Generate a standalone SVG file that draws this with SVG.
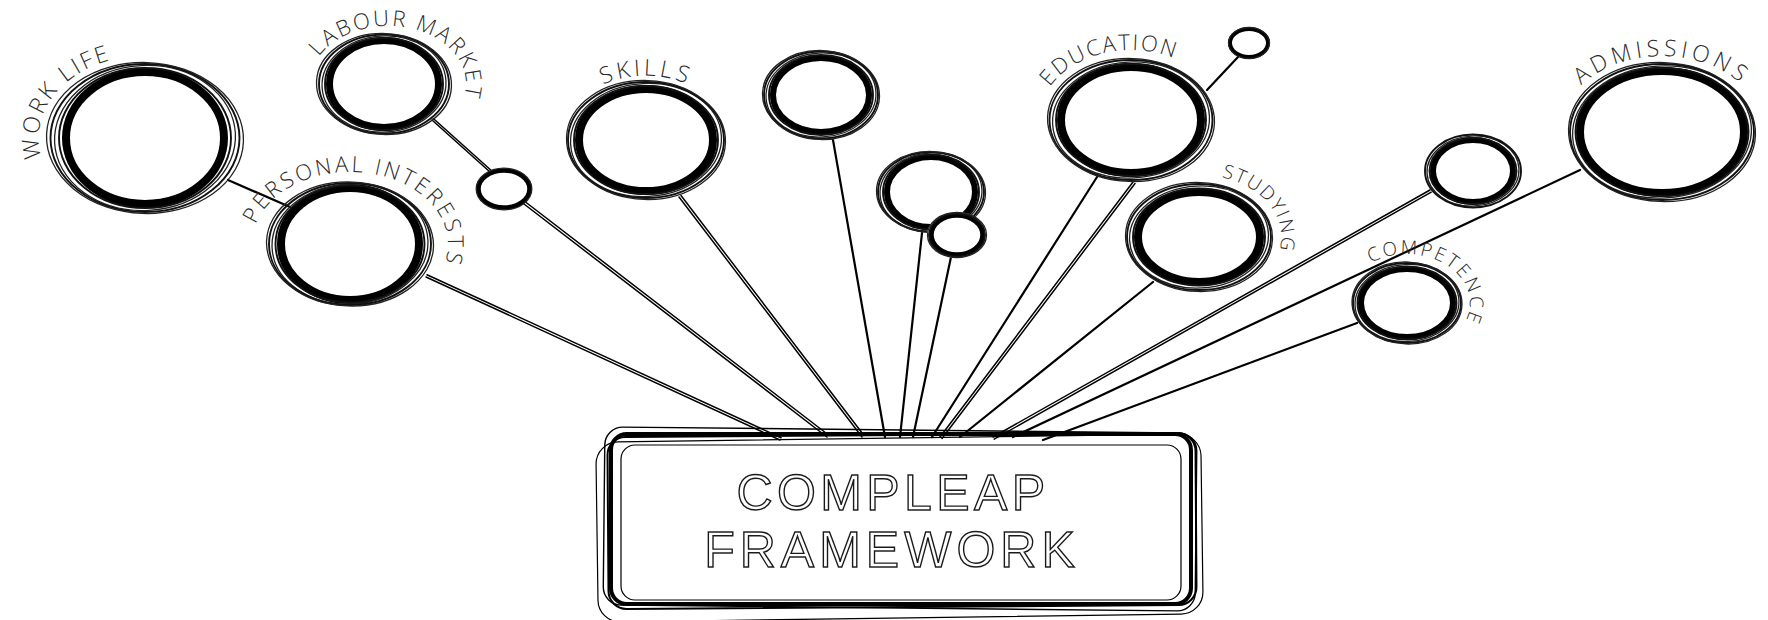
<svg xmlns="http://www.w3.org/2000/svg" width="1768" height="620" viewBox="0 0 1768 620">
<style>
  .bg{fill:#fff}
  .thk{fill:none;stroke:#000;stroke-width:8}
  .thk6{fill:none;stroke:#000;stroke-width:6}
  .thk4{fill:none;stroke:#000;stroke-width:4.5}
  .tn{fill:none;stroke:#111;stroke-width:1.9}
  .tn2{fill:none;stroke:#222;stroke-width:1.3}
  .ln{stroke:#000;stroke-width:2.2;fill:none;stroke-linecap:round}
  .ln2{stroke:#000;stroke-width:1.5;fill:none;stroke-linecap:round}
  .lbl{font-family:"Open Sans","Liberation Sans",sans-serif;font-weight:300;fill:#2a2a2a}
  .box{fill:none;stroke:#000}
  .title{font-family:"Liberation Sans","Open Sans",sans-serif;font-weight:400;font-size:50px;fill:#fff;stroke:#1a1a1a;stroke-width:1.4;text-anchor:middle}
</style>
<defs>
  <path id="pWork" d="M90.4,208.3 A106,82 0 0 1 183.0,61.4"/>
  <path id="pLabour" d="M317.9,58.6 A78,58 0 0 1 463.0,100.0"/>
  <path id="pPersonal" d="M258.5,218.2 A98,72 0 0 1 446.2,257.7"/>
  <path id="pSkills" d="M562.3,134.4 A84,64 0 0 1 729.7,134.4"/>
  <path id="pEdu" d="M1041.7,136.9 A92,70 0 0 1 1215.0,91.5"/>
  <path id="pStud" d="M1168.3,179.5 A82,62 0 0 1 1242.5,289.6"/>
  <path id="pAdm" d="M1560.4,125.4 A102,76 0 0 1 1763.6,125.4"/>
  <path id="pComp" d="M1362.1,268.7 A63,49 0 0 1 1458.9,330.8"/>
</defs>
<rect class="bg" x="0" y="0" width="1768" height="620"/>

<g id="connectors">
  <line class="ln" x1="228" y1="180" x2="290" y2="207"/>
  <line class="ln2" x1="432" y1="120" x2="490" y2="172"/>
  <line class="ln2" x1="433.3" y1="118.5" x2="491.3" y2="170.5"/>
  <line class="ln2" x1="524" y1="204" x2="827" y2="437"/>
  <line class="ln2" x1="525.5" y1="202" x2="828.5" y2="435"/>
  <line class="ln2" x1="426" y1="277" x2="780" y2="440"/>
  <line class="ln2" x1="427" y1="274.7" x2="781" y2="437.7"/>
  <line class="ln2" x1="679" y1="197" x2="862" y2="437"/>
  <line class="ln2" x1="681" y1="195.5" x2="864" y2="435.5"/>
  <line class="ln" x1="833" y1="140" x2="885" y2="437"/>
  <line class="ln" x1="922" y1="233" x2="900" y2="437"/>
  <line class="ln" x1="951" y1="257" x2="913" y2="437"/>
  <line class="ln" x1="1097" y1="177" x2="932" y2="437"/>
  <line class="ln2" x1="1133" y1="182" x2="940" y2="437"/>
  <line class="ln2" x1="1135" y1="183.5" x2="942" y2="438.5"/>
  <line class="ln" x1="1153" y1="282" x2="960" y2="437"/>
  <line class="ln2" x1="1430" y1="190" x2="993" y2="437"/>
  <line class="ln2" x1="1431.2" y1="192.2" x2="994.2" y2="439.2"/>
  <line class="ln" x1="1580" y1="170" x2="1013" y2="437"/>
  <line class="ln" x1="1357" y1="323" x2="1043" y2="440"/>
  <line class="ln" x1="1207" y1="90" x2="1238" y2="57"/>
</g>

<g id="node-work-life">
  <ellipse class="thk" cx="145" cy="138" rx="79" ry="66"/>
  <ellipse class="tn" cx="145" cy="138" rx="86" ry="70"/>
  <ellipse class="tn2" cx="145" cy="138" rx="90.5" ry="72.5" transform="rotate(-3 145 138)"/>
  <ellipse class="tn" cx="145" cy="138" rx="94.5" ry="74"/>
  <ellipse class="tn2" cx="145" cy="138" rx="98.5" ry="75.5" transform="rotate(2 145 138)"/>
  <text class="lbl" font-size="23" letter-spacing="2.5"><textPath href="#pWork" startOffset="50%" text-anchor="middle">WORK LIFE</textPath></text>
</g>

<g id="node-labour-market">
  <ellipse class="thk" cx="384" cy="84" rx="54.5" ry="43.5" style="stroke-width:7"/>
  <ellipse class="tn" cx="384" cy="84" rx="59" ry="46"/>
  <ellipse class="tn2" cx="384" cy="84" rx="62" ry="48" transform="rotate(-3 384 84)"/>
  <ellipse class="tn" cx="384" cy="84" rx="65" ry="49.5"/>
  <ellipse class="tn2" cx="384" cy="84" rx="67.5" ry="50.5" transform="rotate(2 384 84)"/>
  <text class="lbl" font-size="22" letter-spacing="2.2"><textPath href="#pLabour" startOffset="50%" text-anchor="middle">LABOUR MARKET</textPath></text>
</g>

<g id="node-small-1">
  <ellipse class="thk4" cx="504" cy="189" rx="25.5" ry="18.5"/>
  <ellipse class="tn2" cx="504" cy="189" rx="27.8" ry="20.8"/>
</g>

<g id="node-personal-interests">
  <ellipse class="thk" cx="350" cy="244" rx="69" ry="56"/>
  <ellipse class="tn" cx="350" cy="244" rx="74.5" ry="58.5"/>
  <ellipse class="tn2" cx="350" cy="244" rx="78" ry="60" transform="rotate(-3 350 244)"/>
  <ellipse class="tn" cx="350" cy="244" rx="81" ry="61"/>
  <ellipse class="tn2" cx="350" cy="244" rx="83.5" ry="62" transform="rotate(2 350 244)"/>
  <text class="lbl" font-size="22" letter-spacing="2.8"><textPath href="#pPersonal" startOffset="50%" text-anchor="middle">PERSONAL INTERESTS</textPath></text>
</g>

<g id="node-skills">
  <ellipse class="thk" cx="646" cy="140" rx="67" ry="51"/>
  <ellipse class="tn" cx="646" cy="140" rx="72" ry="54"/>
  <ellipse class="tn2" cx="646" cy="140" rx="75.5" ry="56.5" transform="rotate(-3 646 140)"/>
  <ellipse class="tn" cx="646" cy="140" rx="78" ry="58"/>
  <ellipse class="tn2" cx="646" cy="140" rx="79.5" ry="59.5" transform="rotate(2 646 140)"/>
  <text class="lbl" font-size="23" letter-spacing="3.5"><textPath href="#pSkills" startOffset="50%" text-anchor="middle">SKILLS</textPath></text>
</g>

<g id="node-5">
  <ellipse class="thk6" cx="821" cy="95" rx="48" ry="37"/>
  <ellipse class="tn" cx="821" cy="95" rx="52" ry="40"/>
  <ellipse class="tn2" cx="821" cy="95" rx="55" ry="42" transform="rotate(-3 821 95)"/>
  <ellipse class="tn" cx="821" cy="95" rx="57" ry="43.5"/>
  <ellipse class="tn2" cx="821" cy="95" rx="58.5" ry="44.5" transform="rotate(2 821 95)"/>
</g>

<g id="node-6">
  <ellipse class="thk6" cx="931" cy="192" rx="44" ry="35"/>
  <ellipse class="tn" cx="931" cy="192" rx="48" ry="37.5"/>
  <ellipse class="tn2" cx="931" cy="192" rx="51" ry="39" transform="rotate(-3 931 192)"/>
  <ellipse class="tn" cx="931" cy="192" rx="53" ry="40"/>
  <ellipse class="tn2" cx="931" cy="192" rx="54.5" ry="40.5" transform="rotate(2 931 192)"/>
</g>

<g id="node-7">
  <ellipse cx="957" cy="235" rx="30" ry="23" fill="#fff" stroke="none"/>
  <ellipse class="thk4" cx="957" cy="235" rx="25.5" ry="19.5"/>
  <ellipse class="tn" cx="957" cy="235" rx="28" ry="21.5"/>
  <ellipse class="tn2" cx="957" cy="235" rx="29.5" ry="22.5"/>
</g>

<g id="node-education">
  <ellipse class="thk" cx="1131" cy="120" rx="70" ry="53"/>
  <ellipse class="tn" cx="1131" cy="120" rx="75" ry="56"/>
  <ellipse class="tn2" cx="1131" cy="120" rx="78.5" ry="58" transform="rotate(-3 1131 120)"/>
  <ellipse class="tn" cx="1131" cy="120" rx="81.5" ry="60"/>
  <ellipse class="tn2" cx="1131" cy="120" rx="83.5" ry="61.5" transform="rotate(2 1131 120)"/>
  <text class="lbl" font-size="22" letter-spacing="2"><textPath href="#pEdu" startOffset="50%" text-anchor="middle">EDUCATION</textPath></text>
</g>

<g id="node-edu-small">
  <ellipse class="thk4" cx="1249" cy="43" rx="19" ry="14" style="stroke-width:4"/>
  <ellipse class="tn2" cx="1249" cy="43" rx="20.5" ry="15.5"/>
</g>

<g id="node-studying">
  <ellipse class="thk" cx="1199" cy="237" rx="61" ry="45"/>
  <ellipse class="tn" cx="1199" cy="237" rx="66" ry="48.5"/>
  <ellipse class="tn2" cx="1199" cy="237" rx="69.5" ry="51" transform="rotate(-3 1199 237)"/>
  <ellipse class="tn" cx="1199" cy="237" rx="72" ry="53"/>
  <ellipse class="tn2" cx="1199" cy="237" rx="73.5" ry="54.5" transform="rotate(2 1199 237)"/>
  <text class="lbl" font-size="19" letter-spacing="2"><textPath href="#pStud" startOffset="50%" text-anchor="middle">STUDYING</textPath></text>
</g>

<g id="node-10">
  <ellipse class="thk6" cx="1473" cy="171" rx="40" ry="31"/>
  <ellipse class="tn" cx="1473" cy="171" rx="43.5" ry="33"/>
  <ellipse class="tn2" cx="1473" cy="171" rx="46" ry="35" transform="rotate(-3 1473 171)"/>
  <ellipse class="tn" cx="1473" cy="171" rx="48" ry="36.5"/>
</g>

<g id="node-admissions">
  <ellipse class="thk" cx="1662" cy="132" rx="82" ry="61"/>
  <ellipse class="tn" cx="1662" cy="132" rx="86.5" ry="64"/>
  <ellipse class="tn2" cx="1662" cy="132" rx="89.5" ry="66" transform="rotate(-3 1662 132)"/>
  <ellipse class="tn" cx="1662" cy="132" rx="92" ry="68"/>
  <ellipse class="tn2" cx="1662" cy="132" rx="93.5" ry="69.5" transform="rotate(2 1662 132)"/>
  <text class="lbl" font-size="23" letter-spacing="4.2"><textPath href="#pAdm" startOffset="50%" text-anchor="middle">ADMISSIONS</textPath></text>
</g>

<g id="node-competence">
  <ellipse class="thk6" cx="1407" cy="303" rx="46" ry="34"/>
  <ellipse class="tn" cx="1407" cy="303" rx="49.5" ry="36.5"/>
  <ellipse class="tn2" cx="1407" cy="303" rx="52" ry="38.5" transform="rotate(-3 1407 303)"/>
  <ellipse class="tn" cx="1407" cy="303" rx="54" ry="40"/>
  <ellipse class="tn2" cx="1407" cy="303" rx="55" ry="41" transform="rotate(2 1407 303)"/>
  <text class="lbl" font-size="19" letter-spacing="2.5"><textPath href="#pComp" startOffset="50%" text-anchor="middle">COMPETENCE</textPath></text>
</g>

<g id="node-compleap-framework">
  <rect class="box" x="597" y="438" width="605" height="180" rx="22" stroke-width="1.2" transform="rotate(-0.8 900 528)"/>
  <rect class="box" x="604" y="430" width="592" height="178" rx="18" stroke-width="1.4" transform="rotate(0.6 900 520)"/>
  <rect class="box" x="608" y="435" width="588" height="172" rx="18" stroke-width="2" transform="rotate(-0.4 900 520)"/>
  <rect class="box" x="611" y="434" width="580" height="170" rx="16" stroke-width="4"/>
  <rect class="box" x="621" y="445" width="560" height="155" rx="14" stroke-width="1.2"/>
  <text class="title" x="893" y="510" letter-spacing="4.4">COMPLEAP</text>
  <text class="title" x="892" y="567" letter-spacing="5">FRAMEWORK</text>
</g>
</svg>
